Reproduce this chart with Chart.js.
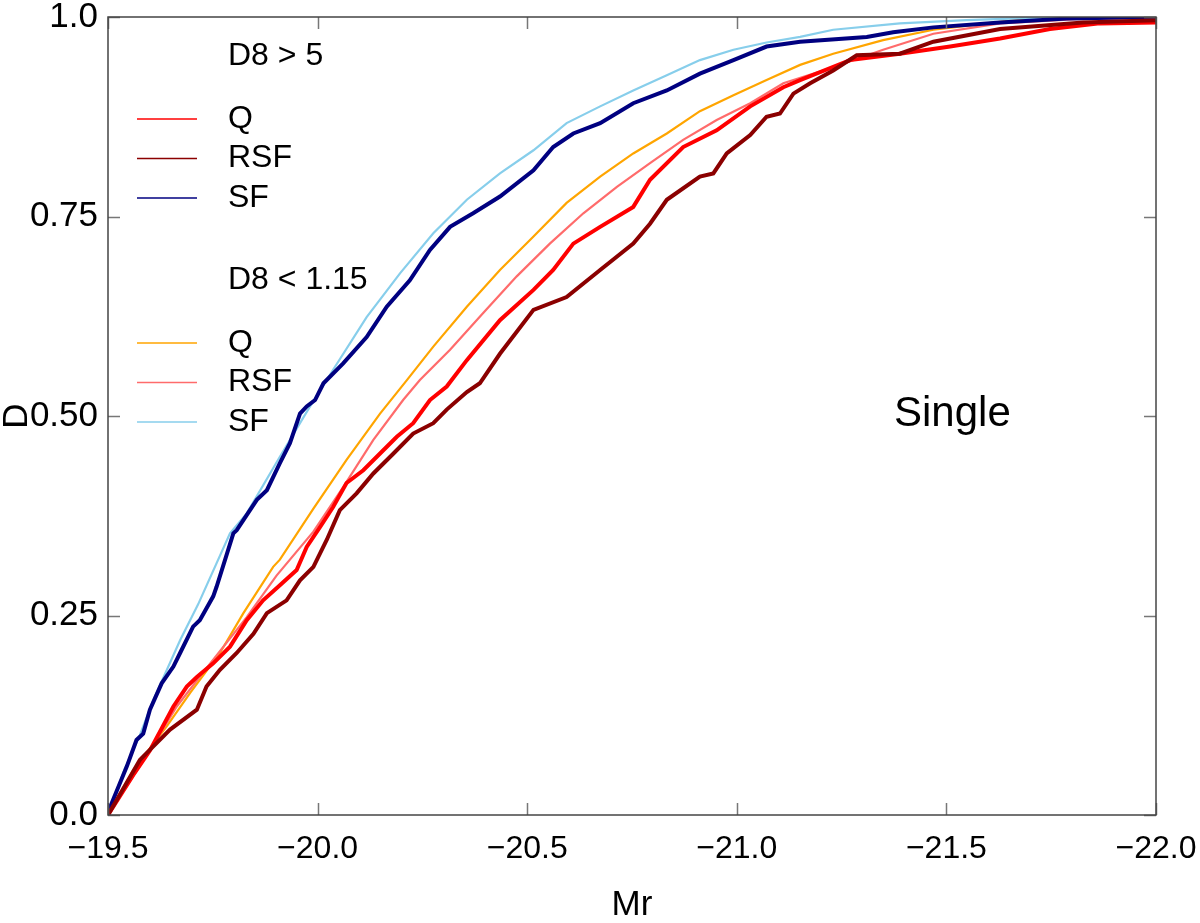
<!DOCTYPE html>
<html>
<head>
<meta charset="utf-8">
<script src="https://cdn.jsdelivr.net/npm/chart.js@4.4.1/dist/chart.umd.min.js"></script>
<style>
  html, body { margin: 0; padding: 0; background: #fff; }
  #wrap { width: 1200px; height: 923px; }
</style>
</head>
<body>
<div id="wrap"><canvas id="chart" width="1200" height="923"></canvas></div>
<script>
// Cumulative distributions of Mr as [Mr, D] pairs
// D8 > 5 (dense environment)
const qHigh = [
  [-19.500, 0.000], [-19.560, 0.050], [-19.600, 0.081], [-19.656, 0.136], [-19.688, 0.161],
  [-19.712, 0.173], [-19.751, 0.190], [-19.791, 0.211], [-19.831, 0.244], [-19.870, 0.269],
  [-19.910, 0.288], [-19.950, 0.307], [-19.974, 0.336], [-20.006, 0.361], [-20.037, 0.386],
  [-20.069, 0.416], [-20.109, 0.432], [-20.149, 0.453], [-20.189, 0.474], [-20.228, 0.491],
  [-20.268, 0.520], [-20.308, 0.537], [-20.356, 0.570], [-20.435, 0.620], [-20.515, 0.658],
  [-20.562, 0.683], [-20.610, 0.716], [-20.674, 0.737], [-20.753, 0.762], [-20.793, 0.796],
  [-20.872, 0.837], [-20.952, 0.858], [-21.032, 0.888], [-21.111, 0.912], [-21.151, 0.921],
  [-21.270, 0.946], [-21.389, 0.954], [-21.509, 0.963], [-21.628, 0.973], [-21.747, 0.985],
  [-21.866, 0.992], [-22.000, 0.993]
];
const rsfHigh = [
  [-19.500, 0.000], [-19.576, 0.069], [-19.648, 0.107], [-19.712, 0.132], [-19.735, 0.161],
  [-19.767, 0.182], [-19.807, 0.203], [-19.847, 0.227], [-19.879, 0.253], [-19.926, 0.269],
  [-19.958, 0.294], [-19.990, 0.311], [-20.022, 0.345], [-20.053, 0.382], [-20.093, 0.403],
  [-20.133, 0.428], [-20.181, 0.453], [-20.228, 0.478], [-20.276, 0.491], [-20.308, 0.508],
  [-20.356, 0.530], [-20.387, 0.541], [-20.435, 0.578], [-20.515, 0.633], [-20.594, 0.649],
  [-20.674, 0.683], [-20.753, 0.716], [-20.793, 0.741], [-20.833, 0.771], [-20.912, 0.800],
  [-20.944, 0.804], [-20.976, 0.829], [-21.032, 0.852], [-21.071, 0.875], [-21.103, 0.879],
  [-21.135, 0.904], [-21.175, 0.917], [-21.230, 0.933], [-21.286, 0.952], [-21.389, 0.954],
  [-21.469, 0.969], [-21.628, 0.985], [-21.826, 0.993], [-22.000, 0.996]
];
const sfHigh = [
  [-19.500, 0.000], [-19.505, 0.010], [-19.545, 0.061], [-19.568, 0.094], [-19.584, 0.102],
  [-19.600, 0.132], [-19.628, 0.165], [-19.656, 0.186], [-19.672, 0.203], [-19.703, 0.236],
  [-19.719, 0.244], [-19.751, 0.274], [-19.759, 0.286], [-19.799, 0.353], [-19.807, 0.357],
  [-19.855, 0.395], [-19.879, 0.407], [-19.910, 0.441], [-19.934, 0.466], [-19.958, 0.503],
  [-19.974, 0.512], [-19.994, 0.520], [-20.014, 0.541], [-20.061, 0.566], [-20.117, 0.599],
  [-20.165, 0.637], [-20.220, 0.670], [-20.268, 0.708], [-20.316, 0.737], [-20.371, 0.754],
  [-20.435, 0.775], [-20.515, 0.808], [-20.562, 0.837], [-20.610, 0.854], [-20.674, 0.867],
  [-20.753, 0.892], [-20.833, 0.908], [-20.912, 0.929], [-20.992, 0.946], [-21.071, 0.963],
  [-21.151, 0.969], [-21.310, 0.975], [-21.373, 0.981], [-21.469, 0.987], [-21.628, 0.993],
  [-21.787, 0.998], [-22.000, 1.000]
];
// D8 < 1.15 (underdense environment)
const qLow = [
  [-19.500, 0.000], [-19.560, 0.056], [-19.640, 0.111], [-19.696, 0.153], [-19.767, 0.203],
  [-19.823, 0.253], [-19.894, 0.311], [-19.910, 0.320], [-19.990, 0.384], [-20.069, 0.445],
  [-20.149, 0.503], [-20.213, 0.545], [-20.276, 0.587], [-20.356, 0.637], [-20.435, 0.683],
  [-20.515, 0.725], [-20.594, 0.767], [-20.674, 0.800], [-20.753, 0.829], [-20.833, 0.854],
  [-20.912, 0.882], [-20.992, 0.902], [-21.071, 0.921], [-21.151, 0.940], [-21.230, 0.954],
  [-21.349, 0.971], [-21.469, 0.984], [-21.611, 0.993], [-21.707, 0.998], [-22.000, 1.000]
];
const rsfLow = [
  [-19.500, 0.000], [-19.600, 0.081], [-19.664, 0.136], [-19.735, 0.184], [-19.831, 0.248],
  [-19.902, 0.300], [-19.990, 0.355], [-20.061, 0.411], [-20.133, 0.470], [-20.204, 0.520],
  [-20.244, 0.545], [-20.316, 0.583], [-20.395, 0.629], [-20.475, 0.675], [-20.554, 0.716],
  [-20.634, 0.754], [-20.714, 0.787], [-20.793, 0.817], [-20.872, 0.846], [-20.952, 0.871],
  [-21.032, 0.892], [-21.111, 0.917], [-21.230, 0.937], [-21.349, 0.959], [-21.469, 0.979],
  [-21.628, 0.992], [-21.800, 0.997], [-22.000, 1.000]
];
const sfLow = [
  [-19.500, 0.000], [-19.540, 0.058], [-19.576, 0.100], [-19.608, 0.144], [-19.672, 0.219],
  [-19.715, 0.264], [-19.791, 0.353], [-19.831, 0.378], [-19.910, 0.449], [-19.982, 0.512],
  [-20.037, 0.558], [-20.117, 0.624], [-20.197, 0.679], [-20.276, 0.729], [-20.356, 0.771],
  [-20.435, 0.804], [-20.515, 0.833], [-20.594, 0.867], [-20.674, 0.888], [-20.753, 0.908],
  [-20.833, 0.927], [-20.912, 0.946], [-20.992, 0.959], [-21.071, 0.968], [-21.151, 0.975],
  [-21.230, 0.984], [-21.389, 0.992], [-21.548, 0.996], [-21.707, 0.999], [-22.000, 1.000]
];

const xTicks = [-19.5, -20.0, -20.5, -21.0, -21.5, -22.0];
const xTickLabels = ["\u221219.5", "\u221220.0", "\u221220.5", "\u221221.0", "\u221221.5", "\u221222.0"];
const yTicks = [0, 0.25, 0.5, 0.75, 1.0];
const yTickLabels = ["0.0", "0.25", "0.50", "0.75", "1.0"];

const legendGroups = [
  { title: "D8 > 5", items: [["Q", "#ff0000"], ["RSF", "#8b0000"], ["SF", "#000080"]] },
  { title: "D8 < 1.15", items: [["Q", "#ffa500"], ["RSF", "#ff6b6b"], ["SF", "#87ceeb"]] }
];

const FONT = "'Liberation Sans', Arial, Helvetica, sans-serif";

function toPoints(arr) {
  return arr.map(p => ({ x: p[0], y: p[1] }));
}

function series(data, color, width) {
  return {
    data: toPoints(data),
    borderColor: color,
    backgroundColor: color,
    borderWidth: width,
    showLine: true,
    pointRadius: 0,
    tension: 0,
    fill: false
  };
}

// frame, inward ticks on all four sides, legend text and the "Single" label
const decorations = {
  id: "decorations",
  afterDraw(chart) {
    const ctx = chart.ctx;
    const { left, right, top, bottom } = chart.chartArea;
    const xs = chart.scales.x, ys = chart.scales.y;
    ctx.save();

    ctx.strokeStyle = "#777";
    ctx.lineWidth = 1.5;
    const tl = 12;
    xTicks.forEach(v => {
      const px = Math.round(xs.getPixelForValue(v)) + 0.5;
      ctx.beginPath();
      ctx.moveTo(px, bottom); ctx.lineTo(px, bottom - tl);
      ctx.moveTo(px, top); ctx.lineTo(px, top + tl);
      ctx.stroke();
    });
    yTicks.forEach(v => {
      const py = Math.round(ys.getPixelForValue(v)) + 0.5;
      ctx.beginPath();
      ctx.moveTo(left, py); ctx.lineTo(left + tl, py);
      ctx.moveTo(right, py); ctx.lineTo(right - tl, py);
      ctx.stroke();
    });

    ctx.strokeStyle = "#444";
    ctx.lineWidth = 1.5;
    ctx.strokeRect(left, top, right - left, bottom - top);

    // legend
    ctx.fillStyle = "#000";
    ctx.textBaseline = "middle";
    ctx.textAlign = "left";
    ctx.font = "32px " + FONT;
    const groupTops = [56, 280];
    legendGroups.forEach((g, gi) => {
      const y0 = groupTops[gi];
      ctx.fillText(g.title, 228, y0);
      g.items.forEach((it, i) => {
        const y = y0 + 63 + i * 39.5;
        ctx.strokeStyle = it[1];
        ctx.lineWidth = 1.5;
        ctx.beginPath();
        ctx.moveTo(137, y); ctx.lineTo(197, y);
        ctx.stroke();
        ctx.fillText(it[0], 228, y);
      });
    });

    ctx.font = "42px " + FONT;
    ctx.fillText("Single", 894, 414);
    ctx.restore();
  }
};

new Chart(document.getElementById("chart"), {
  type: "scatter",
  data: {
    datasets: [
      series(rsfHigh, "#8b0000", 4),
      series(qHigh, "#ff0000", 4),
      series(sfHigh, "#000080", 4),
      series(sfLow, "#87ceeb", 2.2),
      series(rsfLow, "#ff6b6b", 2.2),
      series(qLow, "#ffa500", 2.2)
    ]
  },
  options: {
    responsive: false,
    animation: false,
    devicePixelRatio: 1,
    layout: { padding: { left: 0, right: 44, top: 17, bottom: 0 } },
    plugins: { legend: { display: false }, tooltip: { enabled: false } },
    scales: {
      x: {
        type: "linear",
        min: -22.0,
        max: -19.5,
        reverse: true,
        afterBuildTicks: s => { s.ticks = xTicks.map(v => ({ value: v })); },
        afterFit: s => { s.height = 108; s.paddingLeft = 0; s.paddingRight = 0; },
        grid: { display: false, drawTicks: false },
        border: { display: false },
        ticks: {
          padding: 15,
          color: "#000",
          maxRotation: 0,
          font: { family: FONT, size: 32 },
          callback: v => {
            const i = xTicks.findIndex(t => Math.abs(t - v) < 1e-6);
            return i >= 0 ? xTickLabels[i] : "";
          }
        },
        title: {
          display: true,
          text: "Mr",
          color: "#000",
          padding: { top: 0, bottom: 0 },
          font: { family: FONT, size: 35, lineHeight: 1 }
        }
      },
      y: {
        type: "linear",
        min: 0,
        max: 1,
        afterBuildTicks: s => { s.ticks = yTicks.map(v => ({ value: v })); },
        afterFit: s => { s.width = 108; s.paddingTop = 0; s.paddingBottom = 0; },
        grid: { display: false, drawTicks: false },
        border: { display: false },
        ticks: {
          padding: 10,
          color: "#000",
          font: { family: FONT, size: 35 },
          callback: v => {
            const i = yTicks.findIndex(t => Math.abs(t - v) < 1e-6);
            return i >= 0 ? yTickLabels[i] : "";
          }
        },
        title: {
          display: true,
          text: "D",
          color: "#000",
          padding: { top: 0, bottom: 0 },
          font: { family: FONT, size: 35, lineHeight: 1 }
        }
      }
    }
  },
  plugins: [decorations]
});
</script>
</body>
</html>
